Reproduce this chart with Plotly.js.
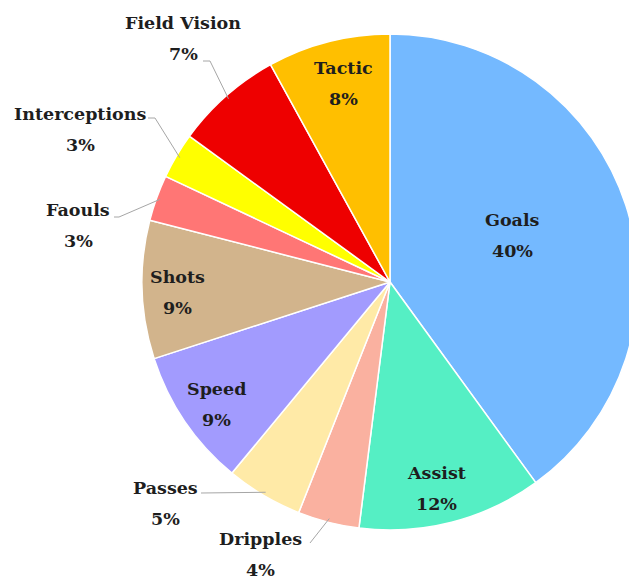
<!DOCTYPE html>
<html><head><meta charset="utf-8">
<script src="https://cdn.plot.ly/plotly-3.0.1.min.js"></script>
<style>html,body{margin:0;padding:0;overflow:hidden;background:#fff;width:629px;height:582px}</style>
</head><body><div id="chart"></div>
<script>
// ---- data ----
const categories = ['Goals','Assist','Dripples','Passes','Speed','Shots','Faouls','Interceptions','Field Vision','Tactic'];
const values = [40,12,4,5,9,9,3,3,7,8];
const colors = ['#74b9ff','#55efc4','#fab1a0','#ffeaa7','#a29bfe','#d2b48c','#ff7675','#ffff00','#ee0000','#ffbf00'];

// ---- layout (pixel geometry of the figure) ----
const W = 648, H = 582;
const M = {l:142, r:10, t:34, b:52};
const PW = W - M.l - M.r, PH = H - M.t - M.b;
const px2x = p => (p - M.l) / PW;
const py2y = p => (H - M.b - p) / PH;

// label name-line centers (pixels); percent line is drawn LINE_GAP below
const LINE_GAP = 31;
const labelPos = {
  'Goals':[512,220], 'Assist':[436,473], 'Dripples':[260,539], 'Passes':[165,488],
  'Speed':[216,389], 'Shots':[177,277], 'Faouls':[78,210], 'Interceptions':[80,114],
  'Field Vision':[183,23], 'Tactic':[343,68]
};
// leader lines for outside labels: start point (pixels) + optional elbow x
const leaders = {
  'Field Vision':{start:[203,61], elbow:210},
  'Interceptions':{start:[148,118], elbow:155},
  'Faouls':{start:[114,217], elbow:119},
  'Passes':{start:[201,493]},
  'Dripples':{start:[310,543]}
};

const total = values.reduce((a,b)=>a+b,0);
const font = {family:'DejaVu Serif, Georgia, serif', size:17.5, color:'#1e1e1e'};
const annotations = [];
const shapes = [];
let cum = 0;
categories.forEach((c,i)=>{
  const v = values[i];
  const mid = 2*Math.PI*(cum + v/2)/total;
  cum += v;
  const [lx, ly] = labelPos[c];
  annotations.push({xref:'paper',yref:'paper',x:px2x(lx),y:py2y(ly),text:'<b>'+c+'</b>',
    showarrow:false,xanchor:'center',yanchor:'middle',font:font});
  annotations.push({xref:'paper',yref:'paper',x:px2x(lx),y:py2y(ly+LINE_GAP),
    text:'<b>'+Math.round(v/total*100)+'%</b>',showarrow:false,xanchor:'center',yanchor:'middle',font:font});
  if (leaders[c]) {
    const L = leaders[c];
    const ex = 0.5 + 0.5*0.985*Math.sin(mid), ey = 0.5 + 0.5*0.985*Math.cos(mid);
    let path = 'M '+px2x(L.start[0])+','+py2y(L.start[1]);
    if (L.elbow) path += ' L '+px2x(L.elbow)+','+py2y(L.start[1]);
    path += ' L '+ex+','+ey;
    shapes.push({type:'path',xref:'paper',yref:'paper',path:path,line:{color:'#a6a6a6',width:1}});
  }
});

const trace = {
  type:'pie', labels:categories, values:values, sort:false, direction:'clockwise', rotation:0,
  marker:{colors:colors, line:{color:'#ffffff', width:1.5}},
  textinfo:'none', hoverinfo:'none', showlegend:false
};
const layout = {
  width:W, height:H, margin:M, paper_bgcolor:'#fff', plot_bgcolor:'#fff',
  showlegend:false, annotations:annotations, shapes:shapes
};
Plotly.newPlot('chart',[trace],layout,{staticPlot:true,displayModeBar:false});
</script>
</body></html>
